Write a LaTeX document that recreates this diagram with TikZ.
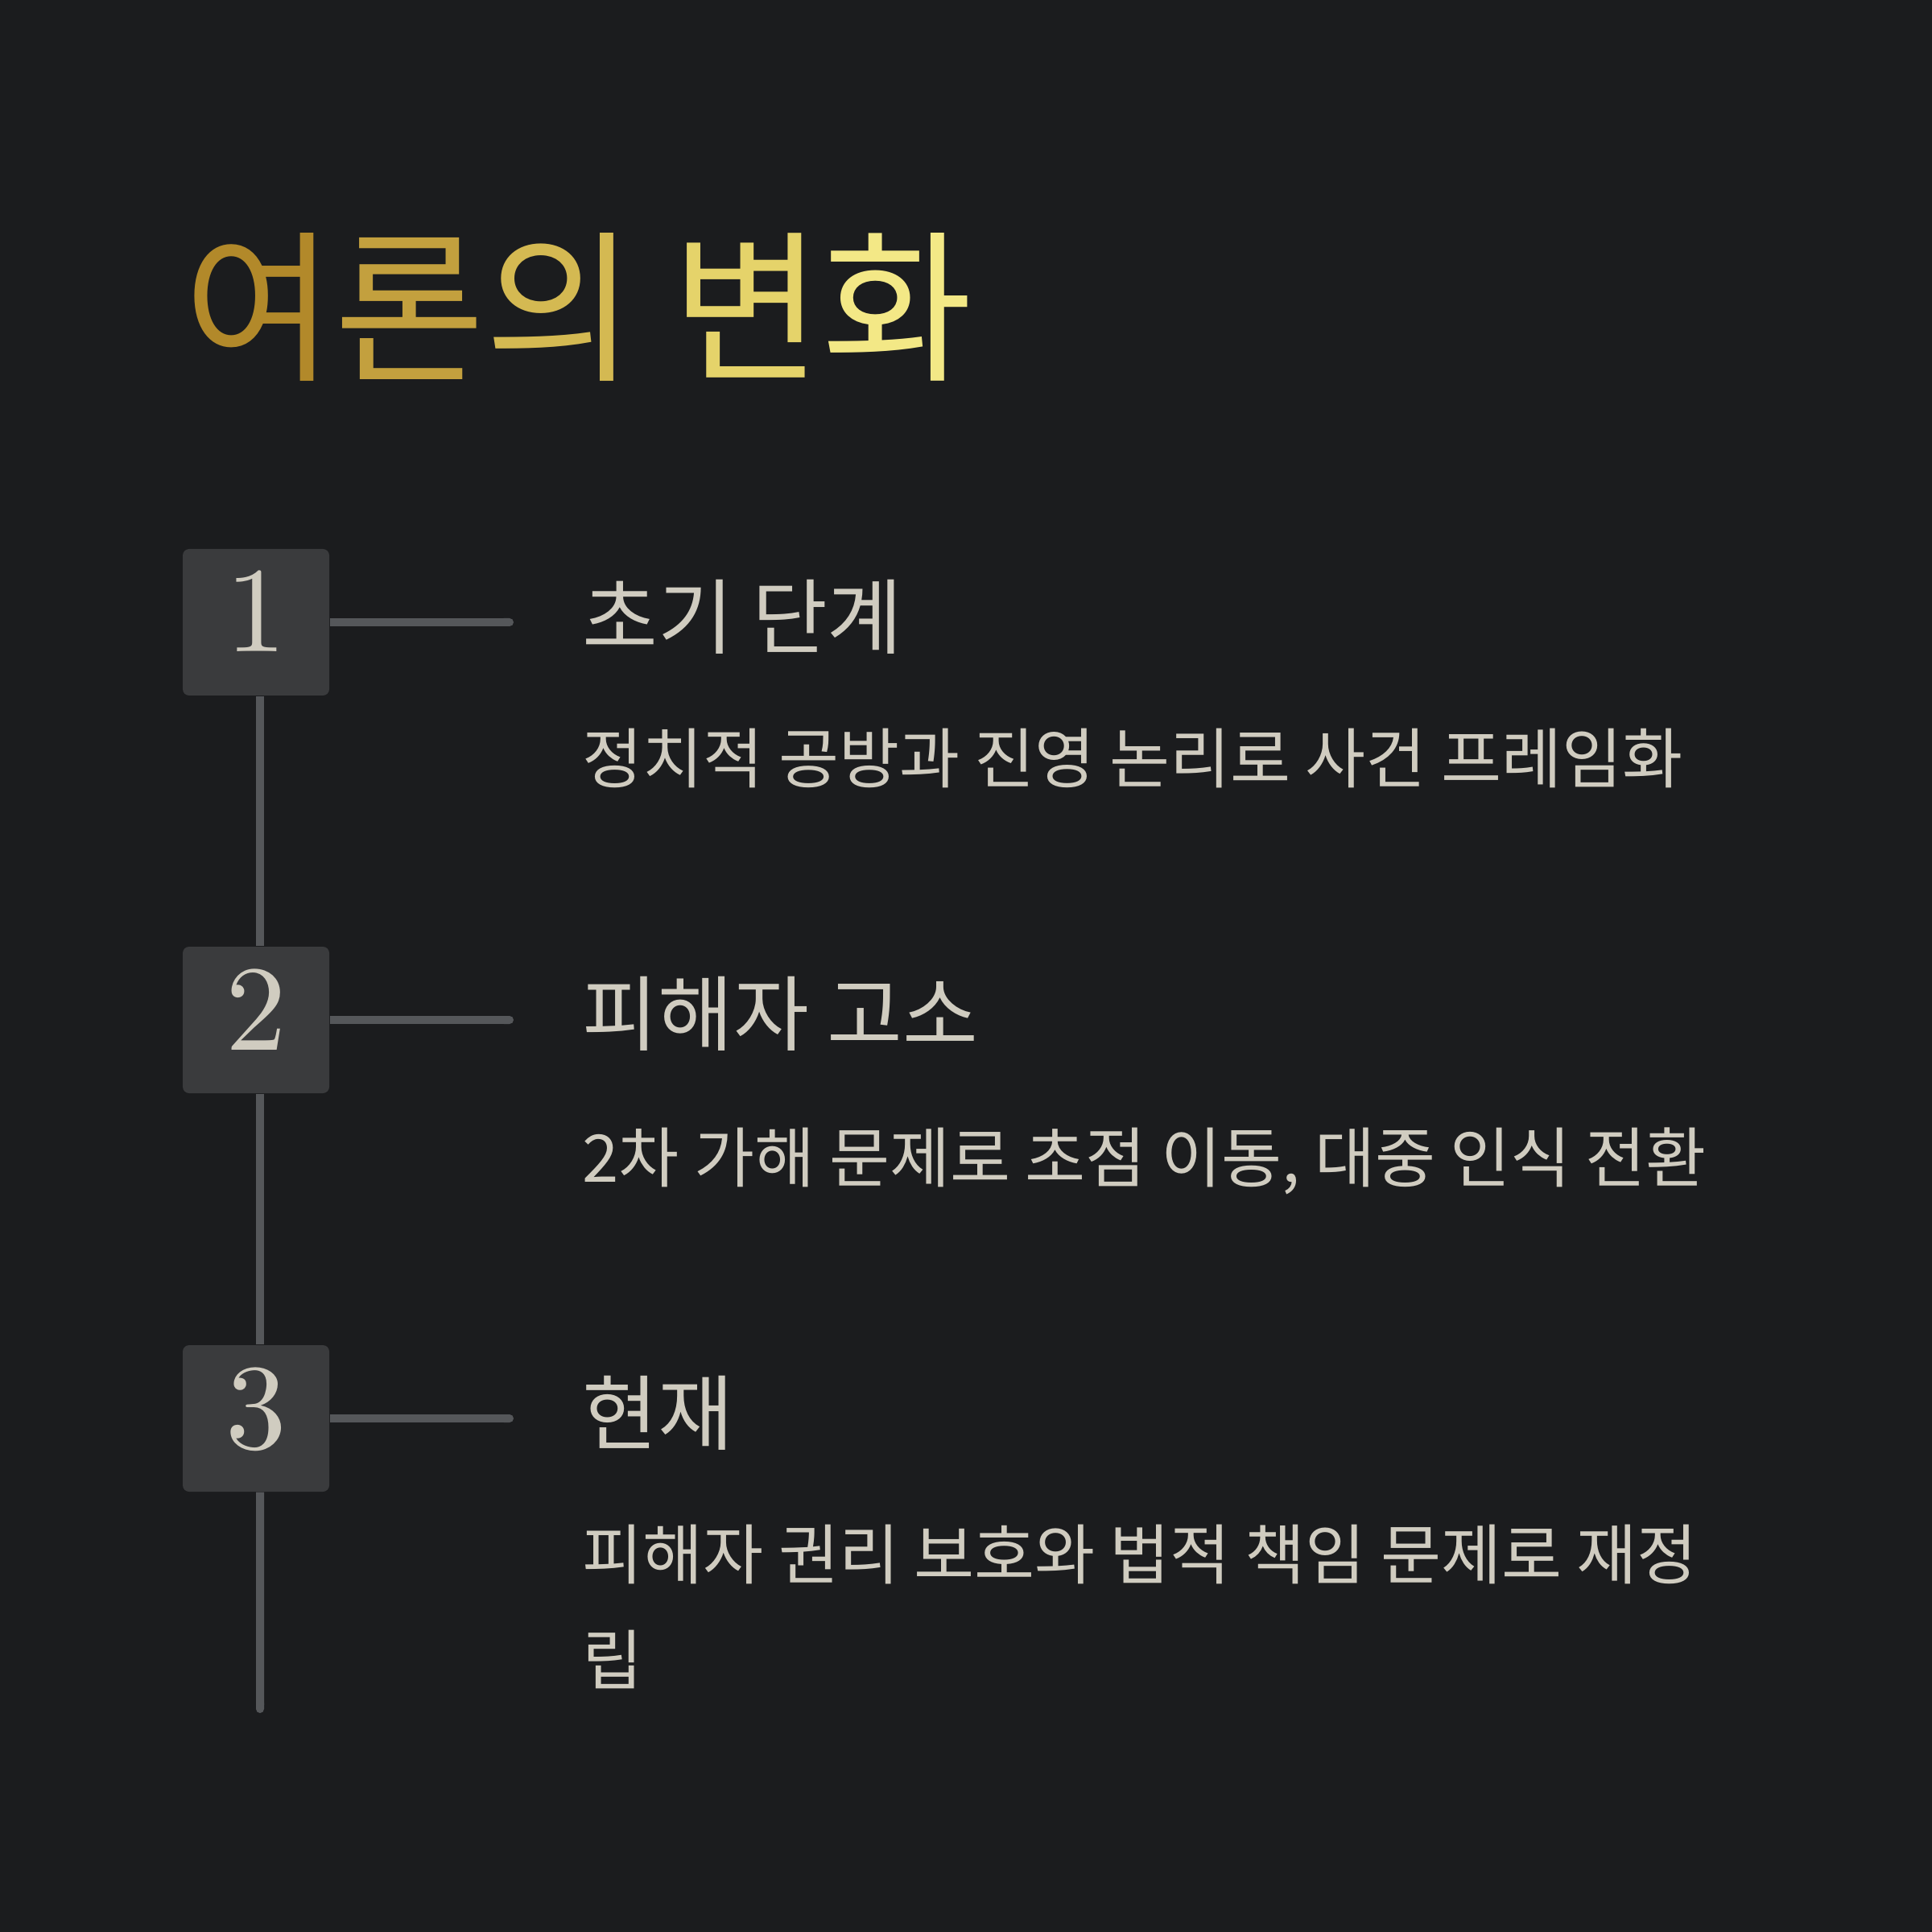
\documentclass[tikz,border=0pt]{standalone}
\usepackage{fontspec}
\usetikzlibrary{arrows.meta}
\newfontfamily\kofont{Noto Sans CJK KR}
\newfontfamily\cifras{lmroman10-regular}[Extension=.otf]
\definecolor{fondo}{HTML}{1B1C1E}
\definecolor{cajagris}{HTML}{3A3B3D}
\definecolor{lineagris}{HTML}{55575A}
\definecolor{texto}{HTML}{D0CCC0}
\definecolor{oroA}{HTML}{B2892A}
\definecolor{oroB}{HTML}{C3A03E}
\definecolor{oroC}{HTML}{D4B952}
\definecolor{oroD}{HTML}{E5D36A}
\definecolor{oroE}{HTML}{F3E886}
\begin{document}
\begin{tikzpicture}[x=1cm, y=-1cm,
    caja/.style={fill=cajagris, rounded corners=0.08cm, minimum size=1.82cm, inner sep=0pt,
        text=texto, font=\cifras\fontsize{43}{43}\selectfont, text height=0.98cm, text depth=0.24cm},
    linea/.style={draw=lineagris, line width=0.1cm, line cap=butt},
    etapa/.style={anchor=base west, inner sep=0pt, text=texto, font=\kofont\fontsize{29}{34}\selectfont},
    detalle/.style={anchor=base west, inner sep=0pt, text=texto, align=left, font=\kofont\fontsize{23.2}{37}\selectfont}]
    % Fondo
    \fill[fondo] (0,0) rectangle (24,24);
    \useasboundingbox (0,0) rectangle (24,24);

    % Titulo
    \node[anchor=base west, inner sep=0pt, font=\kofont\fontsize{57.8}{62}\selectfont] (titulo) at (2.28,4.58)
        {\textcolor{oroA}{여}\textcolor{oroB}{론}\textcolor{oroC}{의} \textcolor{oroD}{변}\textcolor{oroE}{화}};

    % Pasos
    \node[caja] (paso1) at (3.18,7.73) {1};
    \node[caja] (paso2) at (3.18,12.67) {2};
    \node[caja] (paso3) at (3.18,17.62) {3};

    \coordinate (fin1) at (6.38,7.73);
    \coordinate (fin2) at (6.38,12.67);
    \coordinate (fin3) at (6.38,17.62);
    \coordinate (cola) at (3.23,21.28);

    % Lineas
    \draw[linea] ([xshift=0.05cm]paso1.south) -- ([xshift=0.05cm]paso2.north);
    \draw[linea] ([xshift=0.05cm]paso2.south) -- ([xshift=0.05cm]paso3.north);
    \draw[linea, -{Round Cap[]}] ([xshift=0.05cm]paso3.south) -- (cola);
    \draw[linea, -{Round Cap[]}] (paso1.east) -- (fin1);
    \draw[linea, -{Round Cap[]}] (paso2.east) -- (fin2);
    \draw[linea, -{Round Cap[]}] (paso3.east) -- (fin3);

    % Textos
    \node[etapa] (etapa1) at (7.23,8.05) {초기 단계};
    \node[detalle] (detalle1) at (7.23,9.72) {정치적 공방과 진영 논리로 사건 프레임화};
    \node[etapa] (etapa2) at (7.23,12.97) {피해자 고소};
    \node[detalle] (detalle2) at (7.23,14.68) {2차 가해 문제로 초점 이동, 대중 인식 전환};
    \node[etapa] (etapa3) at (7.23,17.93) {현재};
    \node[detalle] (detalle3) at (7.23,20.92) {피해자 권리 보호와 법적 책임 문제로 재정\\립};
\end{tikzpicture}
\end{document}
